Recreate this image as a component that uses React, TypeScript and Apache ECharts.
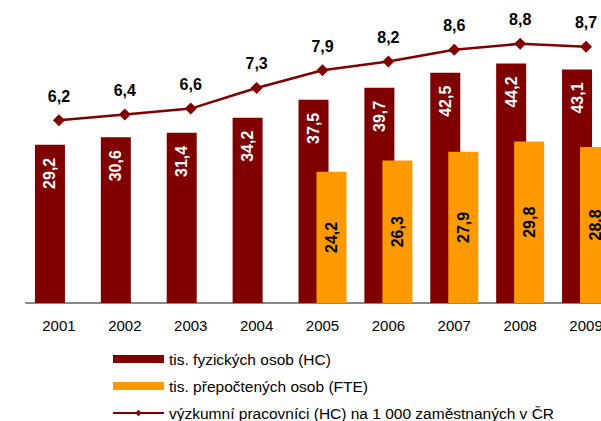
import React, { useEffect, useRef } from "react";
import * as echarts from "echarts";

const years = ["2001", "2002", "2003", "2004", "2005", "2006", "2007", "2008", "2009"];
const hcValues = [29.2, 30.6, 31.4, 34.2, 37.5, 39.7, 42.5, 44.2, 43.1];
const fteValues = [null, null, null, null, 24.2, 26.3, 27.9, 29.8, 28.8];
const ratioValues = [6.2, 6.4, 6.6, 7.3, 7.9, 8.2, 8.6, 8.8, 8.7];

const seriesNames = [
  "tis. fyzických osob (HC)",
  "tis. přepočtených osob (FTE)",
  "výzkumní pracovníci (HC) na 1 000 zaměstnaných v ČR",
];

const FONT = "'Liberation Sans', Arial, sans-serif";
const fmt = (v: number) => String(v).replace(".", ",");

export default function App() {
  const ref = useRef<HTMLDivElement>(null);
  useEffect(() => {
    document.body.style.margin = "0";
    const chart = echarts.init(ref.current!, undefined, { renderer: "svg" });
    chart.setOption({
      animation: false,
      textStyle: { fontFamily: FONT },
      grid: { left: 26, top: 32, width: 593, height: 271 },
      legend: {
        orient: "vertical",
        left: 107,
        top: 346,
        itemWidth: 51,
        itemHeight: 8,
        itemGap: 11,
        textStyle: { fontSize: 15.5, color: "#000", fontFamily: FONT },
        data: [
          { name: seriesNames[0], icon: "rect" },
          { name: seriesNames[1], icon: "rect" },
          { name: seriesNames[2] },
        ],
      },
      xAxis: [
        {
          type: "category",
          data: years,
          axisLine: { lineStyle: { color: "#888", width: 2 } },
          axisTick: { length: 5, lineStyle: { color: "#888", width: 2 } },
          axisLabel: { color: "#000", fontSize: 15, margin: 15, fontFamily: FONT },
        },
        {
          type: "category",
          data: years,
          position: "bottom",
          axisLine: { show: false },
          axisTick: { inside: true, length: 4, lineStyle: { color: "#888", width: 2 } },
          axisLabel: { show: false },
        },
      ],
      yAxis: [
        { type: "value", min: 0, max: 50, show: false, splitLine: { show: false } },
        { type: "value", min: 0, max: 9.2, show: false, splitLine: { show: false } },
      ],
      series: [
        {
          name: seriesNames[0],
          type: "bar",
          data: hcValues,
          barWidth: 30,
          barGap: "-40%",
          itemStyle: { color: "#800000" },
          label: {
            show: true,
            position: "insideTop",
            rotate: 90,
            align: "right",
            verticalAlign: "middle",
            distance: 13,
            color: "#fff",
            fontSize: 16,
            fontWeight: "bold",
            fontFamily: FONT,
            formatter: (p: any) => fmt(p.value),
          },
        },
        {
          name: seriesNames[1],
          type: "bar",
          data: fteValues,
          barWidth: 30,
          itemStyle: { color: "#FF9900" },
          label: {
            show: true,
            position: "inside",
            rotate: 90,
            color: "#000",
            fontSize: 16,
            fontWeight: "bold",
            fontFamily: FONT,
            formatter: (p: any) => fmt(p.value),
          },
        },
        {
          name: seriesNames[2],
          type: "line",
          yAxisIndex: 1,
          data: ratioValues,
          symbol: "diamond",
          symbolSize: 12,
          lineStyle: { color: "#800000", width: 2.5 },
          itemStyle: { color: "#800000" },
          z: 5,
          label: {
            show: true,
            position: "top",
            distance: 10,
            color: "#000",
            fontSize: 16,
            fontWeight: "bold",
            fontFamily: FONT,
            formatter: (p: any) => fmt(p.value),
          },
        },
      ],
    });
    return () => chart.dispose();
  }, []);
  return (
    <div style={{ width: 601, height: 421, overflow: "hidden", position: "relative" }}>
      <div ref={ref} style={{ width: 660, height: 480 }} />
    </div>
  );
}
